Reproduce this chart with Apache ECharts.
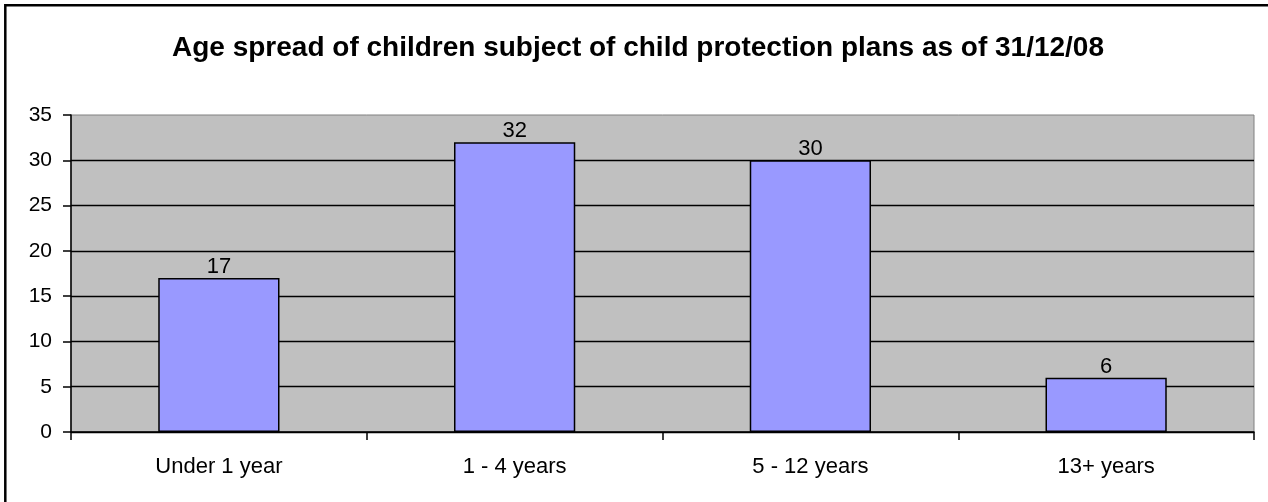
<!DOCTYPE html>
<html>
<head>
<meta charset="utf-8">
<script src="https://cdn.jsdelivr.net/npm/echarts@6/dist/echarts.min.js"></script>
<style>
  html, body { margin: 0; padding: 0; background: #fff; }
  #chart { width: 1268px; height: 502px; }
</style>
</head>
<body>
<div id="chart"></div>
<script>
// Age groups and number of children with a child protection plan
const categories = ['Under 1 year', '1 - 4 years', '5 - 12 years', '13+ years'];
const children = [17, 32, 30, 6];
const titleText = 'Age spread of children subject of child protection plans as of 31/12/08';

const font = '"Liberation Sans", Arial, sans-serif';
const chart = echarts.init(document.getElementById('chart'), null, { renderer: 'canvas' });

chart.setOption({
  backgroundColor: '#ffffff',
  animation: false,
  title: {
    text: titleText,
    left: 633,
    textAlign: 'center',
    top: 29,
    textStyle: { fontFamily: font, fontSize: 28, fontWeight: 'bold', color: '#000' }
  },
  graphic: [{
    type: 'rect',
    z: 100,
    shape: { x: 5.3, y: 5.3, width: 1400, height: 700 },
    style: { fill: 'none', stroke: '#000', lineWidth: 2.5 }
  }],
  grid: {
    left: 71, right: 14, top: 115, bottom: 70,
    show: true,
    backgroundColor: '#C0C0C0',
    borderColor: '#808080',
    borderWidth: 1
  },
  xAxis: {
    type: 'category',
    data: categories,
    axisLine: { show: true, lineStyle: { color: '#000', width: 1.5 } },
    axisTick: { show: true, length: 8, lineStyle: { color: '#000', width: 1.5 } },
    axisLabel: { margin: 24, fontFamily: font, fontSize: 22, color: '#000' }
  },
  yAxis: {
    type: 'value',
    min: 0, max: 35, interval: 5,
    axisLine: { show: true, lineStyle: { color: '#000', width: 1.5 } },
    axisTick: { show: true, length: 8, lineStyle: { color: '#000', width: 1.5 } },
    axisLabel: { margin: 19, fontFamily: font, fontSize: 21, color: '#000' },
    splitLine: { show: true, showMaxLine: false, lineStyle: { color: '#000', width: 1.3 } }
  },
  series: [{
    type: 'bar',
    data: children,
    barWidth: '41%',
    itemStyle: { color: '#9999FF', borderColor: '#000', borderWidth: 1.5 },
    label: {
      show: true,
      position: 'top',
      distance: 0,
      fontFamily: font,
      fontSize: 22,
      color: '#000'
    }
  }]
});
</script>
</body>
</html>
